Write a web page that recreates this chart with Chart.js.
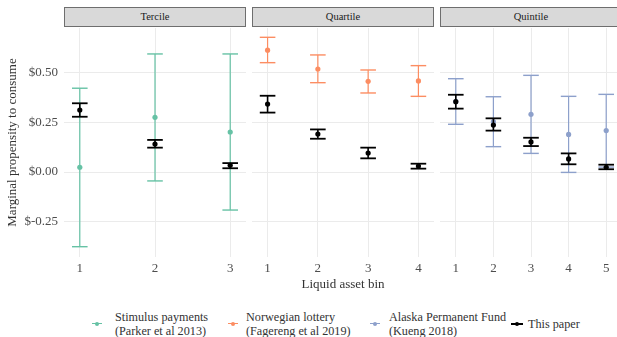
<!DOCTYPE html>
<html>
<head>
<meta charset="utf-8">
<script src="https://cdn.jsdelivr.net/npm/chart.js@4.4.1/dist/chart.umd.min.js"></script>
<style>
  body { margin: 0; background: #fff; }
  #wrap { position: relative; width: 617px; height: 337px; overflow: hidden; background: #fff;
          font-family: "Liberation Serif", "Times New Roman", Times, serif; }
  canvas { position: absolute; top: 28px; }
  .strip { position: absolute; top: 7px; height: 20px; box-sizing: border-box; background: #d9d9d9; border: 1px solid #6e6e6e;
           text-align: center; line-height: 18px; font-size: 10.5px; color: #1a1a1a; }
  .xtitle { position: absolute; top: 276px; left: 64px; width: 558px; text-align: center; font-size: 13px; color: #333; }
  .leg { position: absolute; top: 310px; font-size: 12.2px; line-height: 14px; color: #333; white-space: nowrap; }
  .key { position: absolute; top: 323px; height: 2px; }
  .key span { position: absolute; left: 50%; top: 50%; width: 4px; height: 4px; margin: -2px 0 0 -2px; border-radius: 50%; }
</style>
</head>
<body>
<div id="wrap">
  <div class="strip" style="left:64px;width:182px">Tercile</div>
  <div class="strip" style="left:252px;width:182px">Quartile</div>
  <div class="strip" style="left:440px;width:182px">Quintile</div>
  <canvas id="c1" width="246" height="251" style="left:0px"></canvas>
  <canvas id="c2" width="182" height="251" style="left:252px"></canvas>
  <canvas id="c3" width="182" height="251" style="left:440px"></canvas>
  <div class="xtitle">Liquid asset bin</div>
  <div id="legend"></div>
</div>
<script>
// Colours
const GREEN = "#66c2a5";
const ORANGE = "#fc8d62";
const BLUE = "#8da0cb";
const BLACK = "#000000";

// Y axis
const yTicks = [-0.25, 0, 0.25, 0.5];
const yMin = -0.429, yMax = 0.727;

// Tercile
const terBins = [1, 2, 3];
const terStimPt = [0.024, 0.276, 0.202];
const terStimLo = [-0.377, -0.045, -0.192];
const terStimHi = [0.423, 0.596, 0.596];
const terPaperPt = [0.313, 0.141, 0.034];
const terPaperLo = [0.279, 0.123, 0.019];
const terPaperHi = [0.347, 0.162, 0.045];

// Quartile
const quaBins = [1, 2, 3, 4];
const quaNorPt = [0.615, 0.520, 0.458, 0.460];
const quaNorLo = [0.552, 0.451, 0.399, 0.382];
const quaNorHi = [0.680, 0.591, 0.515, 0.537];
const quaPaperPt = [0.343, 0.192, 0.096, 0.030];
const quaPaperLo = [0.300, 0.168, 0.069, 0.017];
const quaPaperHi = [0.385, 0.215, 0.123, 0.042];

// Quintile
const quiBins = [1, 2, 3, 4, 5];
const quiAlaPt = [0.356, 0.254, 0.291, 0.190, 0.209];
const quiAlaLo = [0.241, 0.128, 0.094, -0.002, 0.025];
const quiAlaHi = [0.471, 0.380, 0.488, 0.382, 0.392];
const quiPaperPt = [0.355, 0.237, 0.152, 0.066, 0.024];
const quiPaperLo = [0.320, 0.209, 0.131, 0.039, 0.014];
const quiPaperHi = [0.390, 0.271, 0.173, 0.094, 0.037];

const legendItems = [
    { lines: ["Stimulus payments", "(Parker et al 2013)"], color: GREEN, keyLeft: 92, keyW: 10, textLeft: 115 },
    { lines: ["Norwegian lottery", "(Fagereng et al 2019)"], color: ORANGE, keyLeft: 228, keyW: 10, textLeft: 246 },
    { lines: ["Alaska Permanent Fund", "(Kueng 2018)"], color: BLUE, keyLeft: 370, keyW: 10, textLeft: 389 },
    { lines: ["This paper"], color: BLACK, keyLeft: 511, keyW: 12, textLeft: 528 }
];

Chart.defaults.font.family = '"Liberation Serif", "Times New Roman", Times, serif';

// vertical whisker + caps, split by null gaps
function whiskers(bins, lo, hi) {
    const out = [];
    bins.forEach((b, i) => {
        out.push({ x: b, y: lo[i] }, { x: b, y: hi[i] }, { x: b, y: null });
    });
    return out;
}
function points(bins, vals) {
    return bins.map((b, i) => ({ x: b, y: vals[i] }));
}

function errorSets(bins, pt, lo, hi, color, bold) {
    return [
        {
            data: points(bins, pt),
            pointRadius: 2.6, pointBackgroundColor: color, pointBorderWidth: 0, showLine: false
        },
        {
            data: whiskers(bins, lo, hi),
            showLine: true, spanGaps: false,
            borderColor: color, borderWidth: bold ? 1.6 : 1.2,
            pointStyle: 'line', pointRadius: 7.8, pointBorderColor: color,
            pointBorderWidth: bold ? 1.8 : 1.4
        }
    ];
}

function makePanel(id, bins, xMin, xMax, datasets, first) {
    const ctx = document.getElementById(id).getContext("2d");
    return new Chart(ctx, {
        type: 'scatter',
        data: { datasets: datasets },
        options: {
            responsive: false,
            animation: false,
            events: [],
            layout: { autoPadding: false, padding: 0 },
            plugins: { legend: { display: false }, tooltip: { enabled: false } },
            scales: {
                x: {
                    type: 'linear', min: xMin, max: xMax,
                    afterBuildTicks: s => { s.ticks = bins.map(v => ({ value: v })); },
                    afterFit: s => { s.height = 22; s.paddingLeft = 0; s.paddingRight = 0; },
                    grid: { color: '#ebebeb', lineWidth: 1, drawTicks: false },
                    border: { display: false },
                    ticks: { padding: 4, color: '#4d4d4d', font: { size: 13 }, callback: v => String(v) }
                },
                y: {
                    min: yMin, max: yMax,
                    afterBuildTicks: s => { s.ticks = yTicks.map(v => ({ value: v })); },
                    afterFit: s => { s.width = first ? 64 : 0; s.paddingTop = 0; s.paddingBottom = 0; },
                    grid: { color: '#ebebeb', lineWidth: 1, drawTicks: false },
                    border: { display: false },
                    ticks: {
                        display: first, padding: 6, color: '#4d4d4d', font: { size: 13 },
                        callback: v => '$' + v.toFixed(2)
                    },
                    title: {
                        display: first, text: 'Marginal propensity to consume',
                        color: '#333', font: { size: 13 }, padding: { top: 5, bottom: 0 }
                    }
                }
            }
        }
    });
}

// black ("This paper") first so it is drawn on top
makePanel("c1", terBins, 0.79, 3.21, [
    ...errorSets(terBins, terPaperPt, terPaperLo, terPaperHi, BLACK, true),
    ...errorSets(terBins, terStimPt, terStimLo, terStimHi, GREEN, false)
], true);

makePanel("c2", quaBins, 0.69, 4.31, [
    ...errorSets(quaBins, quaPaperPt, quaPaperLo, quaPaperHi, BLACK, true),
    ...errorSets(quaBins, quaNorPt, quaNorLo, quaNorHi, ORANGE, false)
], false);

makePanel("c3", quiBins, 0.58, 5.42, [
    ...errorSets(quiBins, quiPaperPt, quiPaperLo, quiPaperHi, BLACK, true),
    ...errorSets(quiBins, quiAlaPt, quiAlaLo, quiAlaHi, BLUE, false)
], false);

// legend
const leg = document.getElementById("legend");
legendItems.forEach(item => {
    const key = document.createElement("div");
    key.className = "key";
    key.style.left = item.keyLeft + "px";
    key.style.width = item.keyW + "px";
    key.style.background = item.color;
    key.style.height = item.color === BLACK ? "1.6px" : "1.2px";
    const dot = document.createElement("span");
    dot.style.background = item.color;
    key.appendChild(dot);
    leg.appendChild(key);

    const txt = document.createElement("div");
    txt.className = "leg";
    txt.style.left = item.textLeft + "px";
    if (item.lines.length === 1) txt.style.top = "317px";
    txt.innerHTML = item.lines.join("<br>");
    leg.appendChild(txt);
});
</script>
</body>
</html>
